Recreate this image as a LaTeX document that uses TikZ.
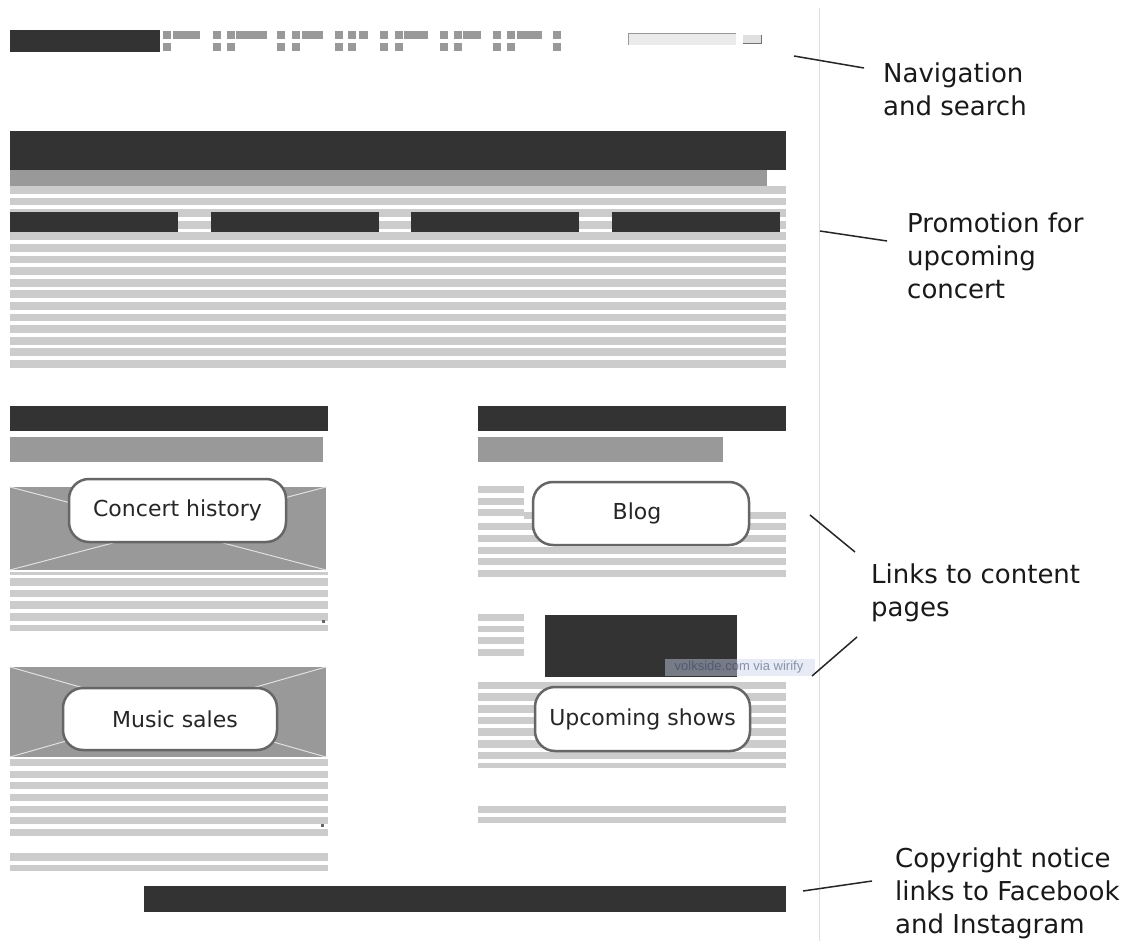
\documentclass[tikz,border=0pt]{standalone}
\usepackage{fontspec}
\setmainfont{DejaVu Sans}
\newfontfamily\wmfont{Liberation Sans}
\definecolor{dk}{HTML}{333333}
\definecolor{md}{HTML}{999999}
\definecolor{lt}{HTML}{CCCCCC}
\definecolor{bd}{HTML}{666666}
\definecolor{sep}{HTML}{DDDDDD}
\definecolor{wmbg}{HTML}{C8D4EA}
\definecolor{wmtx}{HTML}{2A3A60}
\begin{document}
\begin{tikzpicture}[x=1pt,y=-1pt,
  lbl/.style={draw=bd,line width=2.5pt,fill=white,rounded corners=20pt,inner sep=0pt,
    font=\fontsize{22}{26}\selectfont,text=black!85},
  note/.style={anchor=north west,align=left,inner sep=0pt,
    font=\fontsize{26}{33}\selectfont,text=black!90},
  pointer/.style={draw=black!85,line width=1.5pt},
  cross/.style={draw=white!88!black,line width=1pt}]
\useasboundingbox (0,0) rectangle (1135,941);
\fill[white] (0,0) rectangle (1135,941);

% separator
\draw[sep,line width=1pt] (819.5,8) -- (819.5,941);

% ---------- navigation ----------
\fill[dk] (10,30) rectangle (160,52);
\foreach \x in {163,213,227,277,292,335,348,380,395,440,454,493,507,553}{
  \fill[md] (\x,31.5) rectangle (\x+8,39.5);
  \fill[md] (\x,43.5) rectangle (\x+8,51.5);
}
\foreach \a/\b in {173/200,236/267,302/323,359/368,404/428,463/481,517/542}{
  \fill[md] (\a,31.5) rectangle (\b,39.5);
}
% search box and button
\fill[black!8] (628,33) rectangle (736,45);
\draw[md,line width=1.2pt] (628.6,45) -- (628.6,33.6) -- (736,33.6);
\fill[black!12] (743,35) rectangle (762,44);
\draw[black!55,line width=1.2pt] (743,43.4) -- (761.4,43.4) -- (761.4,35);

% ---------- promotion ----------
\foreach \k in {0,...,15}{
  \fill[lt] (10,186+11.6*\k) rectangle (786,186+11.6*\k+7.8);
}
\fill[dk] (10,131) rectangle (786,170);
\fill[md] (10,170) rectangle (767,186);
\foreach \x in {10,211,411,612}{
  \fill[dk] (\x,212) rectangle (\x+167.5,232.5);
}

% ---------- left column ----------
\fill[dk] (10,406) rectangle (328,431);
\fill[md] (10,437) rectangle (323,462);
% concert history image
\fill[md] (10,487) rectangle (326,570);
\draw[cross] (10,487) -- (326,570);
\draw[cross] (326,487) -- (10,570);
\fill[lt] (10,571.5) rectangle (328,574.5);
\foreach \y in {578,589.7,601.3,613}{
  \fill[lt] (10,\y) rectangle (328,\y+7.5);
}
\fill[lt] (10,624.7) rectangle (328,631);
\fill[bd] (321.5,619.5) rectangle (324.5,622.5);
\node[lbl,minimum width=217pt,minimum height=63pt] (hist) at (177.5,510.5) {Concert history};

% music sales image
\fill[md] (10,667) rectangle (326,757);
\draw[cross] (10,667) -- (326,757);
\draw[cross] (326,667) -- (10,757);
\foreach \y in {759,770.7,782.3,794,805.7,817.3,829}{
  \fill[lt] (10,\y) rectangle (328,\y+7);
}
\fill[lt] (10,853.3) rectangle (328,860.7);
\fill[lt] (10,865) rectangle (328,871);
\fill[bd] (321.2,824.2) rectangle (324.2,827.2);
\node[lbl,minimum width=214pt,minimum height=62pt] (sales) at (170,719) {\hspace*{10pt}Music sales};

% ---------- right column ----------
\fill[dk] (478,406) rectangle (786,431);
\fill[md] (478,437) rectangle (723,462);
% blog
\foreach \y in {486,497.7,509.3}{
  \fill[lt] (478,\y) rectangle (524,\y+7);
}
\fill[lt] (524,511.7) rectangle (786,519.2);
\foreach \y in {523.3,535,546.7,558.3,570}{
  \fill[lt] (478,\y) rectangle (786,\y+7);
}
\node[lbl,minimum width=216pt,minimum height=63pt] (blog) at (641,513.5) {Blog\hspace*{8pt}};

% upcoming shows
\foreach \y in {614,625.7,637.3,649}{
  \fill[lt] (478,\y) rectangle (524,\y+6.7);
}
\fill[dk] (545,615) rectangle (737,677.3);
\foreach \y in {681.7,693.3,705,716.7,728.3,740,751.7}{
  \fill[lt] (478,\y) rectangle (786,\y+7.5);
}
\fill[lt] (478,763.3) rectangle (786,768.3);
\fill[lt] (478,805.7) rectangle (786,813.3);
\fill[lt] (478,816.7) rectangle (786,822.7);
\node[lbl,minimum width=215pt,minimum height=64pt] (shows) at (642.5,719) {Upcoming shows};

% watermark
\fill[wmbg,opacity=0.45] (665,658.5) rectangle (815,676);
\node[inner sep=0pt,font=\wmfont\fontsize{13}{14}\selectfont,text=wmtx,text opacity=0.5] (wm) at (739,667.5) {volkside.com via wirify};

% ---------- footer ----------
\fill[dk] (144,886) rectangle (786,912);

% ---------- annotations ----------
\node[note] (navnote) at (883,62.2) {Navigation\\and search};
\node[note] (promonote) at (907,213) {Promotion for\\upcoming\\concert};
\node[note] (linknote) at (871,564) {Links to content\\pages};
\node[note] (copynote) at (895,848) {Copyright notice\\links to Facebook\\and Instagram};

\coordinate (navA) at (794,56);   \coordinate (navB) at (864,68);
\coordinate (proA) at (820,231);  \coordinate (proB) at (887,241);
\coordinate (lnkA) at (810,515);  \coordinate (lnkB) at (855,552);
\coordinate (lnkC) at (812,676);  \coordinate (lnkD) at (857,637);
\coordinate (cpyA) at (803,891);  \coordinate (cpyB) at (872,881);
\draw[pointer] (navA) -- (navB);
\draw[pointer] (proA) -- (proB);
\draw[pointer] (lnkA) -- (lnkB);
\draw[pointer] (lnkC) -- (lnkD);
\draw[pointer] (cpyA) -- (cpyB);
\end{tikzpicture}
\end{document}
